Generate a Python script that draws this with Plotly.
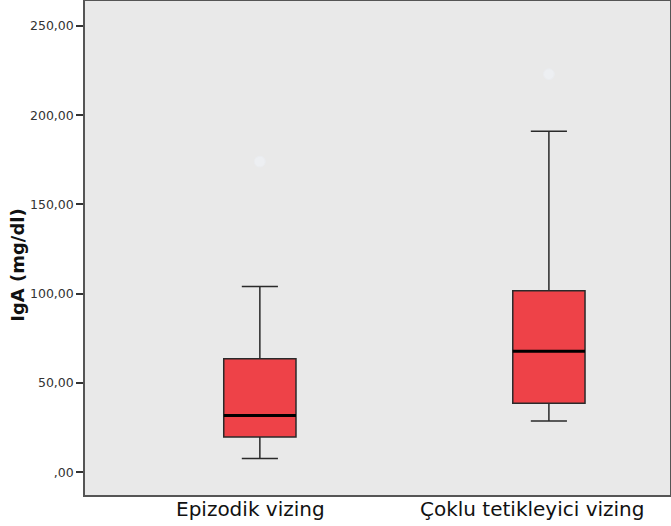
import plotly.graph_objects as go

categories = ["Epizodik vizing", "Çoklu tetikleyici vizing"]
lower_whisker = [7.7, 28.7]
q1_vals = [19.7, 38.6]
median_vals = [31.7, 67.8]
q3_vals = [63.6, 101.7]
upper_whisker = [104.0, 191.0]
outlier_cat = ["Epizodik vizing", "Çoklu tetikleyici vizing"]
outlier_vals = [174.0, 223.0]
label_shift = [-9, -17]

y_tickvals = [0, 50, 100, 150, 200, 250]
y_ticktext = [",00", "50,00", "100,00", "150,00", "200,00", "250,00"]

box_w = 0.25
fig = go.Figure()
fig.add_trace(go.Box(
    x=categories,
    q1=q1_vals, median=median_vals, q3=q3_vals,
    lowerfence=lower_whisker, upperfence=upper_whisker,
    fillcolor="#ee4248",
    line=dict(color="#2a2a2a", width=1.5),
    width=box_w,
    whiskerwidth=0.5,
    boxpoints=False,
    showlegend=False,
    hoverinfo="skip",
))
fig.add_trace(go.Scatter(
    x=outlier_cat, y=outlier_vals, mode="markers",
    marker=dict(symbol="circle", size=11, color="#edeff2",
                line=dict(color="#eaecef", width=1)),
    showlegend=False, hoverinfo="skip",
))
for i, m in enumerate(median_vals):
    fig.add_shape(type="line", xref="x", yref="y",
                  x0=i - box_w / 2, x1=i + box_w / 2, y0=m, y1=m,
                  line=dict(color="#000000", width=3))

for cat, sh in zip(categories, label_shift):
    fig.add_annotation(x=cat, xref="x", y=0, yref="paper",
                       text=cat, showarrow=False, xanchor="center", yanchor="top",
                       xshift=sh, yshift=0,
                       font=dict(size=20, color="#111", family="DejaVu Sans"))

fig.add_annotation(x=-0.1145, xref="paper", y=0.466, yref="paper",
                   text="<b>IgA (mg/dl)</b>", textangle=-90, showarrow=False,
                   xanchor="center", yanchor="middle",
                   font=dict(size=18, color="#111", family="DejaVu Sans"))

fig.update_layout(
    width=671, height=526,
    margin=dict(l=85, r=1, t=1, b=31, autoexpand=False),
    paper_bgcolor="white",
    plot_bgcolor="#e9e9e9",
    font=dict(family="DejaVu Sans", color="#222"),
)
fig.update_xaxes(
    type="category",
    range=[-0.605, 1.419],
    automargin=False,
    showgrid=False,
    showline=True, linecolor="#555", linewidth=1.5, mirror=True,
    ticks="", showticklabels=False,
)
fig.update_yaxes(
    range=[-12.8, 264],
    automargin=False,
    tickvals=y_tickvals, ticktext=y_ticktext,
    showgrid=False, zeroline=False,
    showline=True, linecolor="#555", linewidth=1.5, mirror=True,
    ticks="outside", ticklen=7, tickcolor="#333", tickwidth=1.5,
    tickfont=dict(size=12.5, color="#333"),
)
fig.write_html("out.html", config={"displayModeBar": False},
               post_script="document.body.style.margin='0';document.body.style.overflow='hidden';")
